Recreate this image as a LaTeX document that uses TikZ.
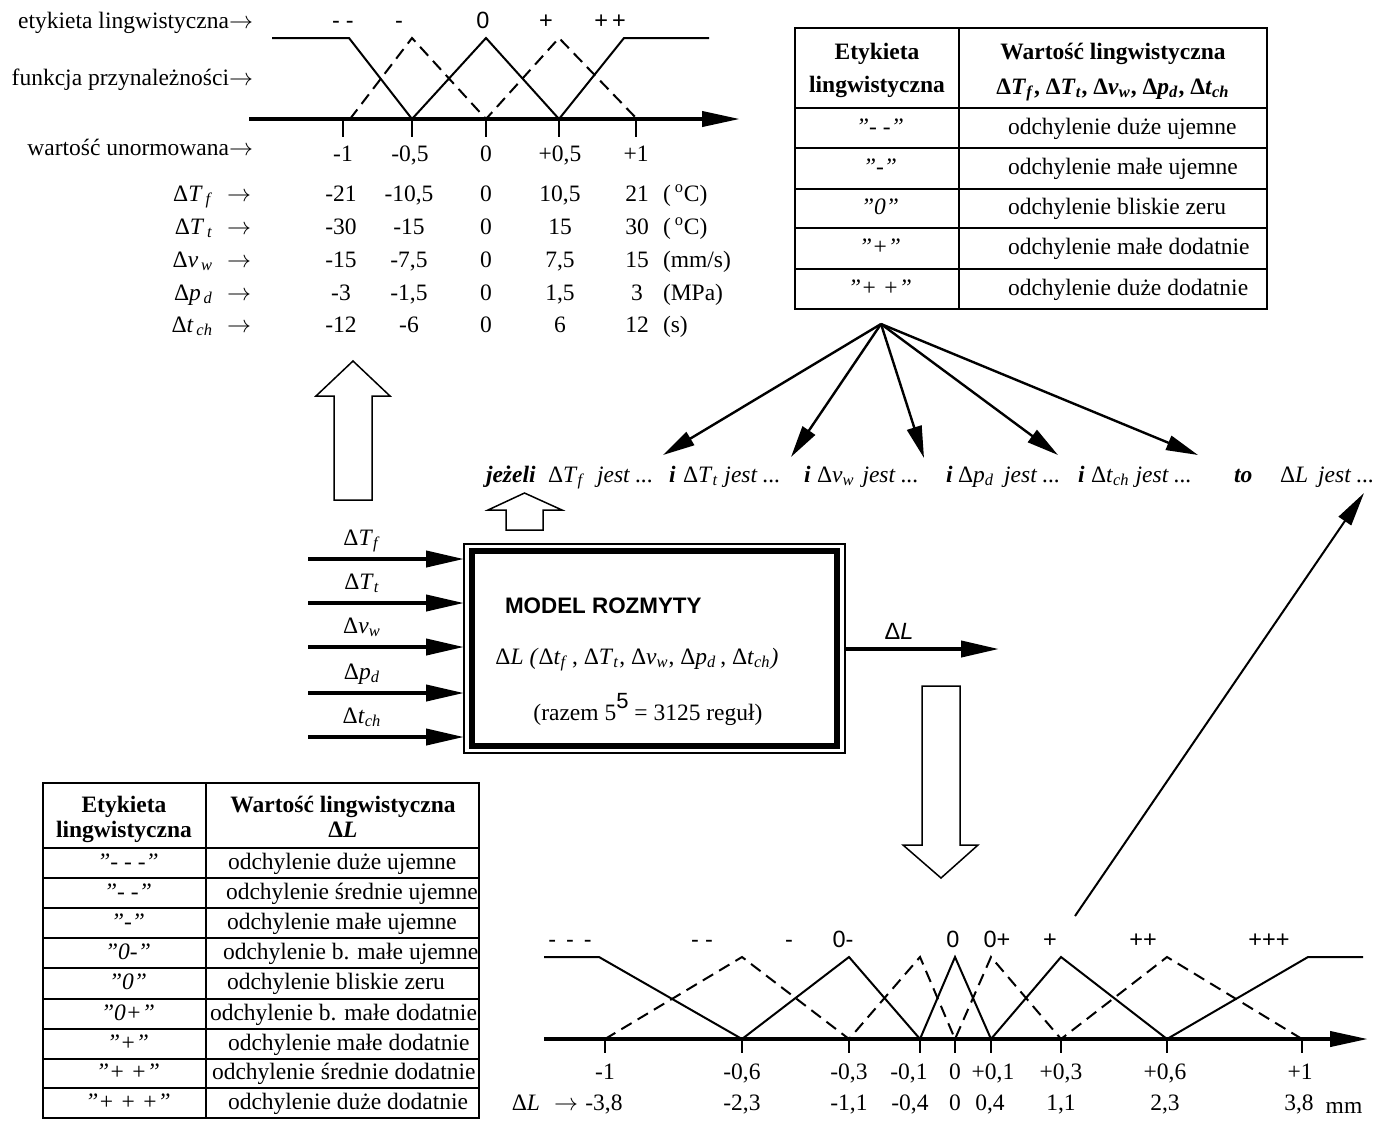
\documentclass[tikz,border=0pt]{standalone}
\usepackage{fontspec}
\setmainfont{Liberation Serif}
\setsansfont{Liberation Sans}
\usetikzlibrary{arrows.meta}
\newcommand{\fs}{\fontsize{11.75}{14}\selectfont}
\newcommand{\dd}[2]{Δ\textit{#1}\textsubscript{\textit{#2}}}
\newcommand{\ddl}[2]{Δ\textit{#1}\textsubscript{\,\textit{#2}}\hspace{7pt}$\rightarrow$}
\newcommand{\vrow}[9]{%
  \node[anchor=base east] (#2l) at (251,#1) {#3};
  \node[anchor=base] (#2a) at (341,#1) {#4};
  \node[anchor=base] (#2b) at (409,#1) {#5};
  \node[anchor=base] (#2c) at (486,#1) {#6};
  \node[anchor=base] (#2d) at (560,#1) {#7};
  \node[anchor=base] (#2e) at (637,#1) {#8};
  \node[anchor=base west] (#2u) at (663,#1) {#9};}
\begin{document}
\begin{tikzpicture}[x=0.5pt,y=-0.5pt,
  every node/.style={inner sep=0pt, outer sep=0pt, font=\fs},
  sflab/.style={font=\sffamily\fs},
  itlab/.style={font=\itshape\fs},
  bilab/.style={font=\bfseries\itshape\fs},
  hdr/.style={font=\bfseries\fs},
  curve/.style={line width=1pt},
  dcurve/.style={line width=1pt, dash pattern=on 6pt off 3.5pt},
  axisarrow/.style={line width=2pt, -{Triangle[length=19pt,width=7.5pt]}},
  tickline/.style={line width=1pt},
  inarrow/.style={line width=2pt, -{Triangle[length=19pt,width=8pt]}},
  fanarrow/.style={line width=1.2pt, -{Triangle[length=16pt,width=7.5pt]}},
  longarrow/.style={line width=1pt, -{Triangle[length=17pt,width=7.5pt]}},
  hollow/.style={line width=0.75pt, fill=white},
  tline/.style={line width=0.8pt}]
\useasboundingbox (0,0) rectangle (1390,1126);

% ---------- top-left membership functions ----------
\node[anchor=base east] (lab1) at (253,28) {etykieta lingwistyczna$\rightarrow$};
\node[anchor=base east] (lab2) at (253,85) {funkcja przynależności$\rightarrow$};
\node[anchor=base east] (lab3) at (253,155) {wartość unormowana$\rightarrow$};
\draw[axisarrow] (249,119) -- (740,119);
\foreach \x in {343,412,486,559,636} \draw[tickline] (\x,119) -- (\x,137);
\draw[curve] (272,38) -- (349,38) -- (412,119) -- (486,38) -- (559,119) -- (624,38) -- (709,38);
\draw[dcurve] (350,119) -- (412,38) -- (486,119) -- (559,38) -- (637,119);
\node[sflab, anchor=base] (tl1) at (343,28) {-\hspace{3pt}-};
\node[sflab, anchor=base] (tl2) at (399,28) {-};
\node[sflab, anchor=base] (tl3) at (483,28) {0};
\node[sflab, anchor=base] (tl4) at (546,28) {+};
\node[sflab, anchor=base] (tl5) at (610,28) {+\hspace{2pt}+};
\node[anchor=base] (tk1) at (343,161) {-1};
\node[anchor=base] (tk2) at (410,161) {-0,5};
\node[anchor=base] (tk3) at (486,161) {0};
\node[anchor=base] (tk4) at (560,161) {+0,5};
\node[anchor=base] (tk5) at (636,161) {+1};
\vrow{201}{tf}{\ddl{T}{f}}{-21}{-10,5}{0}{10,5}{21}{(\,\textsuperscript{o}C)}
\vrow{234}{tt}{\ddl{T}{t}}{-30}{-15}{0}{15}{30}{(\,\textsuperscript{o}C)}
\vrow{267}{vw}{\ddl{v}{w}}{-15}{-7,5}{0}{7,5}{15}{(mm/s)}
\vrow{300}{pd}{\ddl{p}{d}}{-3}{-1,5}{0}{1,5}{3}{(MPa)}
\vrow{332}{tc}{\ddl{t}{ch}}{-12}{-6}{0}{6}{12}{(s)}

% ---------- top-right table ----------
\draw[tline] (795,28) rectangle (1267,309);
\draw[tline] (959,28) -- (959,309);
\foreach \y in {108,148,189,228} \draw[tline] (795,\y) -- (1267,\y);
\draw[line width=1.4pt] (795,269) -- (1267,269);
\node[hdr, anchor=base] (th1) at (877,59) {Etykieta};
\node[hdr, anchor=base] (th2) at (877,92) {lingwistyczna};
\node[hdr, anchor=base] (th3) at (1113,59) {Wartość lingwistyczna};
\node[font=\bfseries\fs, anchor=base] (th4) at (1113,94) {\dd{T}{f}, \dd{T}{t}, \dd{v}{w}, \dd{p}{d}, \dd{t}{ch}};
\node[itlab, anchor=base] (tr1) at (880,134) {”- -”};
\node[itlab, anchor=base] (tr2) at (880,174) {”-”};
\node[itlab, anchor=base] (tr3) at (880,214) {”0”};
\node[itlab, anchor=base] (tr4) at (880,254) {”+”};
\node[itlab, anchor=base] (tr5) at (880,295) {”+ +”};
\node[anchor=base west] (tv1) at (1008,134) {odchylenie duże ujemne};
\node[anchor=base west] (tv2) at (1008,174) {odchylenie małe ujemne};
\node[anchor=base west] (tv3) at (1008,214) {odchylenie bliskie zeru};
\node[anchor=base west] (tv4) at (1008,254) {odchylenie małe dodatnie};
\node[anchor=base west] (tv5) at (1008,295) {odchylenie duże dodatnie};

% ---------- rule line ----------
\node[bilab, anchor=base west] (r0) at (486,482) {jeżeli};
\node[anchor=base west] (r1) at (548,482) {\dd{T}{f}\hspace{6pt}\textit{jest ...}};
\node[bilab, anchor=base west] (r2) at (669,482) {i};
\node[anchor=base west] (r3) at (683,482) {\dd{T}{t}\hspace{3pt}\textit{jest ...}};
\node[bilab, anchor=base west] (r4) at (804,482) {i};
\node[anchor=base west] (r5) at (817,482) {\dd{v}{w}\hspace{4pt}\textit{jest ...}};
\node[bilab, anchor=base west] (r6) at (946,482) {i};
\node[anchor=base west] (r7) at (958,482) {\dd{p}{d}\hspace{5pt}\textit{jest ...}};
\node[bilab, anchor=base west] (r8) at (1078,482) {i};
\node[anchor=base west] (r9) at (1091,482) {\dd{t}{ch}\hspace{3pt}\textit{jest ...}};
\node[bilab, anchor=base west] (r10) at (1234,482) {to};
\node[anchor=base west] (r11) at (1280,482) {Δ\textit{L}\hspace{5pt}\textit{jest ...}};

\coordinate (fansrc) at (881,324);
\coordinate (f1) at (663,455);
\coordinate (f2) at (791,457);
\coordinate (f3) at (924,458);
\coordinate (f4) at (1058,455);
\coordinate (f5) at (1198,455);
\foreach \t in {f1,f2,f3,f4,f5} \draw[fanarrow] (fansrc) -- (\t);

% ---------- hollow block arrows ----------
\draw[hollow] (334,500) -- (334,396) -- (316,396) -- (353,361) -- (390,396) -- (372,396) -- (372,500) -- cycle;
\draw[hollow] (506,530) -- (506,510) -- (488,510) -- (524.5,493) -- (562,510) -- (543,510) -- (543,530) -- cycle;
\draw[hollow] (922,686) -- (922,845) -- (903,845) -- (941,878) -- (978,845) -- (960,845) -- (960,686) -- cycle;

% ---------- model box ----------
\node[draw, line width=0.75pt, minimum width=190.5pt, minimum height=104.5pt] (box) at (654.5,648.5) {};
\draw[line width=3pt] (472,551) rectangle (837,746);
\node[font=\sffamily\bfseries\fontsize{11.2}{13}\selectfont, anchor=base west] (mt) at (505,613) {MODEL ROZMYTY};
\node[anchor=base] (mf) at (637,664) {Δ\textit{L (}Δ\textit{t}\textsubscript{\textit{f}}\,, \dd{T}{t}, \dd{v}{w}, \dd{p}{d}\,, \dd{t}{ch}\textit{)}};
\node[anchor=base] (mr) at (648,720) {(razem 5\raisebox{6pt}{\sffamily\fontsize{11}{12}\selectfont 5} = 3125 reguł)};

\coordinate (i1) at (308,559);
\coordinate (i2) at (308,603);
\coordinate (i3) at (308,647);
\coordinate (i4) at (308,693);
\coordinate (i5) at (308,737);
\foreach \c in {i1,i2,i3,i4,i5} \draw[inarrow] (\c) -- (box.west |- \c);
\node[anchor=base] (il1) at (362,545) {\dd{T}{f}};
\node[anchor=base] (il2) at (362,589) {\dd{T}{t}};
\node[anchor=base] (il3) at (362,633) {\dd{v}{w}};
\node[anchor=base] (il4) at (362,679) {\dd{p}{d}};
\node[anchor=base] (il5) at (362,723) {\dd{t}{ch}};

\coordinate (oend) at (999,649);
\draw[inarrow] (box.east |- oend) -- (oend);
\node[sflab, anchor=base] (ol) at (899,639) {Δ\textit{L}};

% ---------- bottom-left table ----------
\draw[tline] (43,783) rectangle (479,1118);
\draw[tline] (206,783) -- (206,1118);
\foreach \y in {848,878,908,938,968,999,1029,1059,1088} \draw[tline] (43,\y) -- (479,\y);
\node[hdr, anchor=base] (bh1) at (124,812) {Etykieta};
\node[hdr, anchor=base] (bh2) at (124,837) {lingwistyczna};
\node[hdr, anchor=base] (bh3) at (343,812) {Wartość lingwistyczna};
\node[hdr, anchor=base] (bh4) at (343,837) {Δ\textit{L}};
\node[itlab, anchor=base] (bl1) at (128,869) {”- - -”};
\node[itlab, anchor=base] (bl2) at (128,899) {”- -”};
\node[itlab, anchor=base] (bl3) at (128,929) {”-”};
\node[itlab, anchor=base] (bl4) at (128,959) {”0-”};
\node[itlab, anchor=base] (bl5) at (128,989) {”0”};
\node[itlab, anchor=base] (bl6) at (128,1020) {”0+”};
\node[itlab, anchor=base] (bl7) at (128,1050) {”+”};
\node[itlab, anchor=base] (bl8) at (128,1079) {”+ +”};
\node[itlab, anchor=base] (bl9) at (128,1109) {”+ + +”};
\node[anchor=base west] (bv1) at (228,869) {odchylenie duże ujemne};
\node[anchor=base west] (bv2) at (226,899) {odchylenie średnie ujemne};
\node[anchor=base west] (bv3) at (227,929) {odchylenie małe ujemne};
\node[anchor=base west] (bv4) at (223,959) {odchylenie b. małe ujemne};
\node[anchor=base west] (bv5) at (227,989) {odchylenie bliskie zeru};
\node[anchor=base west] (bv6) at (210,1020) {odchylenie b. małe dodatnie};
\node[anchor=base west] (bv7) at (228,1050) {odchylenie małe dodatnie};
\node[anchor=base west] (bv8) at (212,1079) {odchylenie średnie dodatnie};
\node[anchor=base west] (bv9) at (228,1109) {odchylenie duże dodatnie};

% ---------- bottom-right membership functions ----------
\draw[axisarrow] (544,1039) -- (1368,1039);
\foreach \x in {605,742,849,920,955,991,1061,1167,1302} \draw[tickline] (\x,1039) -- (\x,1053);
\draw[curve] (544,957) -- (599,957) -- (742,1039) -- (849,957) -- (920,1039) -- (955,957) -- (991,1039) -- (1061,957) -- (1167,1039) -- (1308,957) -- (1363,957);
\draw[dcurve] (605,1039) -- (742,957) -- (849,1039) -- (920,957) -- (955,1039) -- (991,957) -- (1061,1039) -- (1167,957) -- (1302,1039);
\node[sflab, anchor=base] (bl01) at (570,947) {-\hspace{5pt}-\hspace{5pt}-};
\node[sflab, anchor=base] (bl02) at (702,947) {-\hspace{3pt}-};
\node[sflab, anchor=base] (bl03) at (789,947) {-};
\node[sflab, anchor=base] (bl04) at (843,947) {0-};
\node[sflab, anchor=base] (bl05) at (953,947) {0};
\node[sflab, anchor=base] (bl06) at (997,947) {0+};
\node[sflab, anchor=base] (bl07) at (1050,947) {+};
\node[sflab, anchor=base] (bl08) at (1143,947) {++};
\node[sflab, anchor=base] (bl09) at (1269,947) {+++};
\node[anchor=base] (bt1) at (605,1079) {-1};
\node[anchor=base] (bt2) at (742,1079) {-0,6};
\node[anchor=base] (bt3) at (849,1079) {-0,3};
\node[anchor=base] (bt4) at (909,1079) {-0,1};
\node[anchor=base] (bt5) at (955,1079) {0};
\node[anchor=base] (bt6) at (993,1079) {+0,1};
\node[anchor=base] (bt7) at (1061,1079) {+0,3};
\node[anchor=base] (bt8) at (1165,1079) {+0,6};
\node[anchor=base] (bt9) at (1300,1079) {+1};
\node[anchor=base east] (bvl) at (578,1110) {Δ\textit{L}\hspace{7pt}$\rightarrow$};
\node[anchor=base] (bw1) at (604,1110) {-3,8};
\node[anchor=base] (bw2) at (742,1110) {-2,3};
\node[anchor=base] (bw3) at (849,1110) {-1,1};
\node[anchor=base] (bw4) at (910,1110) {-0,4};
\node[anchor=base] (bw5) at (955,1110) {0};
\node[anchor=base] (bw6) at (990,1110) {0,4};
\node[anchor=base] (bw7) at (1061,1110) {1,1};
\node[anchor=base] (bw8) at (1165,1110) {2,3};
\node[anchor=base] (bw9) at (1299,1110) {3,8};
\node[anchor=base] (bmm) at (1344,1113) {mm};

\coordinate (lstart) at (1075,916);
\coordinate (lend) at (1364,493);
\draw[longarrow] (lstart) -- (lend);
\end{tikzpicture}
\end{document}
